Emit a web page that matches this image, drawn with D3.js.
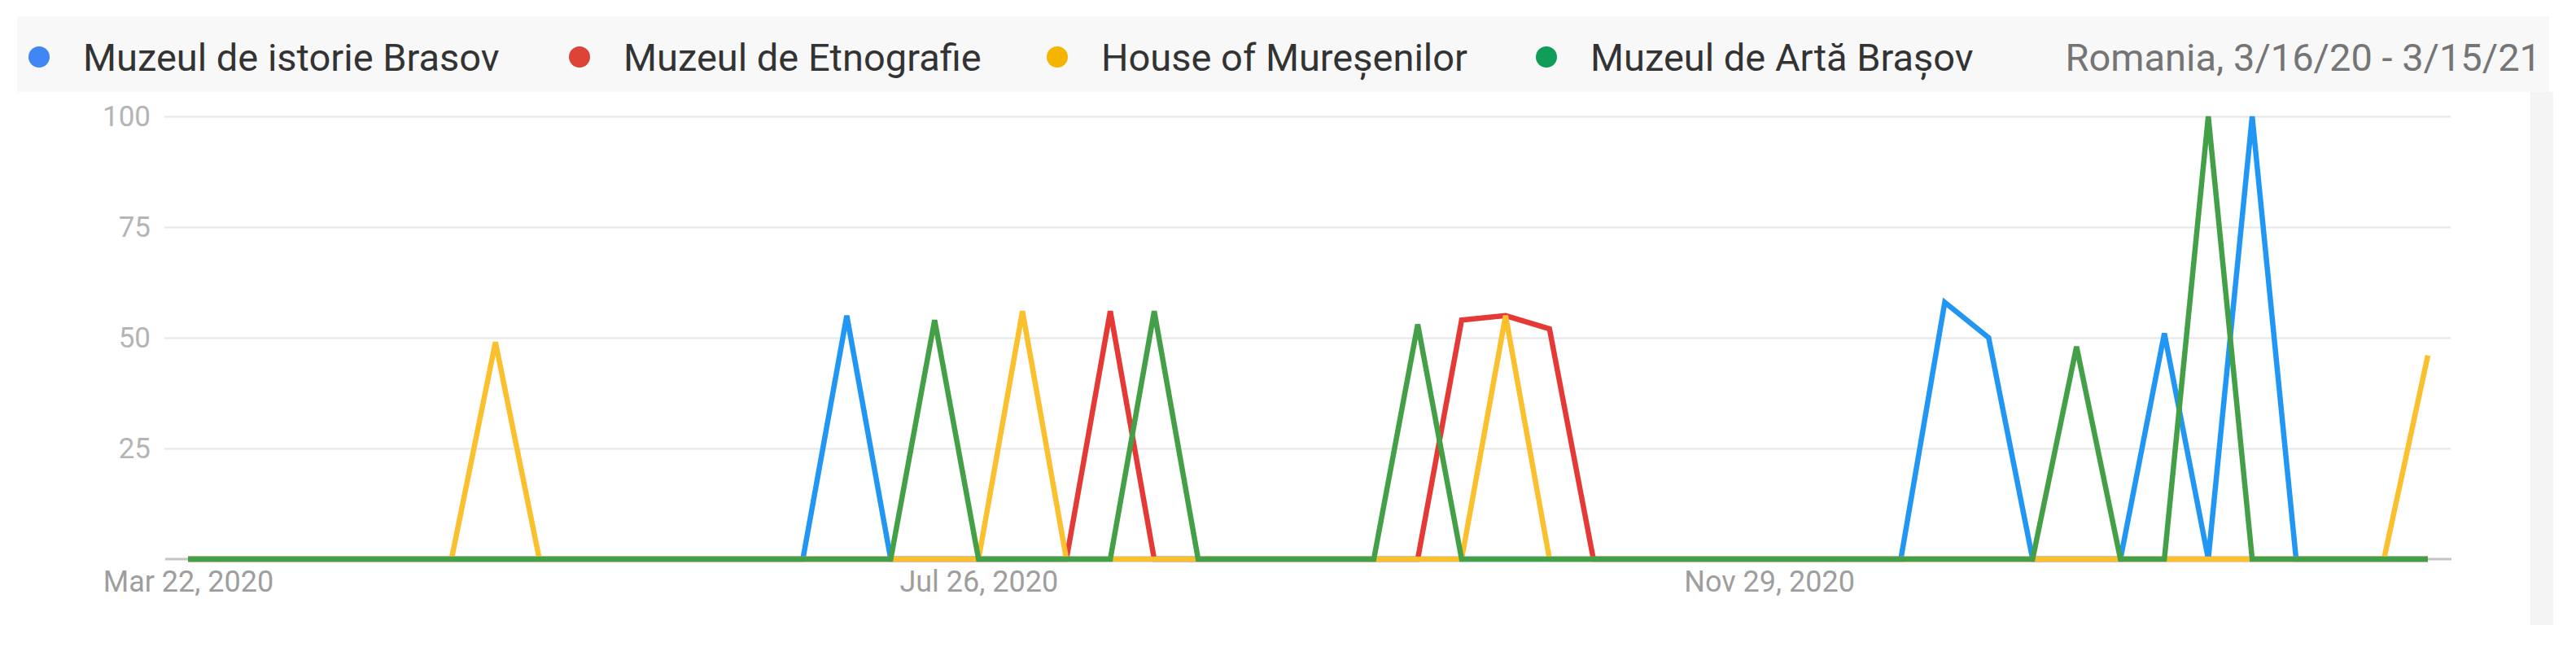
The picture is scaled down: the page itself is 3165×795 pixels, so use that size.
<!DOCTYPE html>
<html>
<head>
<meta charset="utf-8">
<script src="https://cdn.jsdelivr.net/npm/d3@7"></script>
<style>
  body { margin: 0; background: #fff; }
  svg { display: block; font-family: Roboto, "Noto Sans", sans-serif; }
</style>
</head>
<body>
<div class="canvas"></div>
<script>
// weekly interest, Mar 22 2020 .. Mar 14 2021
const seriesNames = ['Muzeul de istorie Brasov', 'Muzeul de Etnografie', 'House of Mureșenilor', 'Muzeul de Artă Brașov'];
const istorie  = [0,0,0,0,0,0,0,0,0,0,0,0,0,0,0,55,0,0,0,0,0,0,0,0,0,0,0,0,0,0,0,0,0,0,0,0,0,0,0,0,58,50,0,0,0,51,0,100,0,0,0,0];
const etno     = [0,0,0,0,0,0,0,0,0,0,0,0,0,0,0,0,0,0,0,0,0,56,0,0,0,0,0,0,0,54,55,52,0,0,0,0,0,0,0,0,0,0,0,0,0,0,0,0,0,0,0,0];
const muresen  = [0,0,0,0,0,0,0,49,0,0,0,0,0,0,0,0,0,0,0,56,0,0,0,0,0,0,0,0,0,0,55,0,0,0,0,0,0,0,0,0,0,0,0,0,0,0,0,0,0,0,0,46];
const arta     = [0,0,0,0,0,0,0,0,0,0,0,0,0,0,0,0,0,54,0,0,0,0,56,0,0,0,0,0,53,0,0,0,0,0,0,0,0,0,0,0,0,0,0,48,0,0,100,0,0,0,0,0];
const yTicks = [25, 50, 75, 100];
const xTickLabels = ['Mar 22, 2020', 'Jul 26, 2020', 'Nov 29, 2020'];
const regionLabel = 'Romania, 3/16/20 - 3/15/21';

const lineColours = ['#2196f3', '#e53935', '#fbc02d', '#43a047'];
const dotColours = ['#4285f4', '#db4437', '#f4b400', '#0f9d58'];

const parse = d3.timeParse('%b %d, %Y');
const weeks = d3.timeWeek.range(parse('Mar 22, 2020'), d3.timeDay.offset(parse('Mar 14, 2021'), 1));

const dims = { width: 3165, height: 795 };
const svg = d3.select('.canvas')
    .append('svg')
    .attr('width', dims.width)
    .attr('height', dims.height);

// legend strip
svg.append('rect')
    .attr('x', 21).attr('y', 20)
    .attr('width', 3111).attr('height', 93)
    .attr('fill', '#f8f8f8');
svg.append('rect')
    .attr('x', 3109).attr('y', 113)
    .attr('width', 28).attr('height', 655)
    .attr('fill', '#f4f4f4');

const legendX = [48, 712, 1299, 1900];
const legend = svg.selectAll('g.leg')
    .data(seriesNames)
    .enter().append('g')
    .attr('class', 'leg')
    .attr('transform', (d, i) => `translate(${legendX[i]}, 70)`);
legend.append('circle')
    .attr('r', 13)
    .attr('fill', (d, i) => dotColours[i]);
legend.append('text')
    .attr('x', 54).attr('y', 17)
    .attr('font-size', 47)
    .attr('fill', '#333')
    .text(d => d);

svg.append('text')
    .attr('x', 3122).attr('y', 87)
    .attr('text-anchor', 'end')
    .attr('font-size', 47)
    .attr('fill', '#757575')
    .text(regionLabel);

// scales
const x = d3.scaleTime()
    .domain([weeks[0], weeks[weeks.length - 1]])
    .range([231, 2983]);
const y = d3.scaleLinear()
    .domain([0, 100])
    .range([687, 143]);

// grid + y labels
const yAxis = svg.append('g')
    .attr('transform', 'translate(202, 0)')
    .call(d3.axisLeft(y).tickValues(yTicks).tickSize(-(3011 - 202)).tickPadding(17));
yAxis.select('.domain').remove();
yAxis.selectAll('line').attr('stroke', '#e6e6e6').attr('stroke-width', 2);
yAxis.selectAll('text')
    .attr('font-size', 35)
    .attr('fill', '#b4b4b4')
    .attr('font-family', 'Roboto, sans-serif');

// baseline
svg.append('line')
    .attr('x1', 203).attr('x2', 3012)
    .attr('y1', y(0)).attr('y2', y(0))
    .attr('stroke', '#c4c4c4')
    .attr('stroke-width', 3);

// x labels
const xAxis = svg.append('g')
    .attr('transform', `translate(0, ${y(0)})`)
    .call(d3.axisBottom(x)
        .tickValues(xTickLabels.map(parse))
        .tickFormat(d3.timeFormat('%b %-d, %Y'))
        .tickSize(0)
        .tickPadding(14));
xAxis.select('.domain').remove();
xAxis.selectAll('text')
    .attr('font-size', 36)
    .attr('fill', '#9e9e9e')
    .attr('font-family', 'Roboto, sans-serif');

// lines
const allSeries = [istorie, etno, muresen, arta];
const line = d3.line()
    .x((d, i) => x(weeks[i]))
    .y(d => y(d));

svg.append('g')
    .selectAll('path')
    .data(allSeries)
    .enter().append('path')
    .attr('d', line)
    .attr('fill', 'none')
    .attr('stroke', (d, i) => lineColours[i])
    .attr('stroke-width', 6.5)
    .attr('stroke-linejoin', 'miter');
</script>
</body>
</html>
